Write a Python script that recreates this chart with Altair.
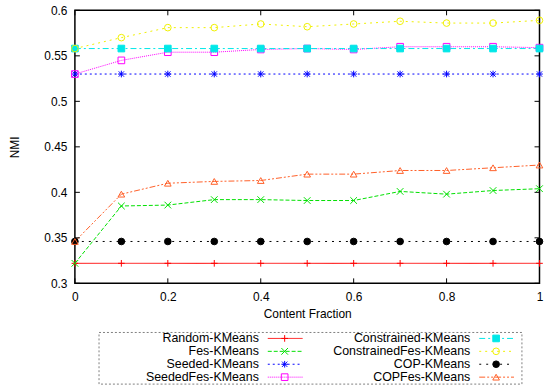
import altair as alt
import pandas as pd

# ---------------- data ----------------
content_fraction = [0.0, 0.1, 0.2, 0.3, 0.4, 0.5, 0.6, 0.7, 0.8, 0.9, 1.0]

series_names = [
    "Random-KMeans", "Fes-KMeans", "Seeded-KMeans", "SeededFes-KMeans",
    "Constrained-KMeans", "ConstrainedFes-KMeans", "COP-KMeans", "COPFes-KMeans",
]

random_kmeans = [0.322, 0.322, 0.322, 0.322, 0.322, 0.322, 0.322, 0.322, 0.322, 0.322, 0.322]
fes_kmeans = [0.322, 0.385, 0.386, 0.392, 0.392, 0.391, 0.391, 0.401, 0.398, 0.402, 0.404]
seeded_kmeans = [0.530, 0.530, 0.530, 0.530, 0.530, 0.530, 0.530, 0.530, 0.530, 0.530, 0.530]
seededfes_kmeans = [0.530, 0.545, 0.554, 0.554, 0.557, 0.558, 0.557, 0.560, 0.560, 0.560, 0.559]
constrained_kmeans = [0.558, 0.558, 0.558, 0.558, 0.558, 0.558, 0.558, 0.558, 0.558, 0.558, 0.558]
constrainedfes_kmeans = [0.558, 0.570, 0.581, 0.581, 0.585, 0.582, 0.585, 0.588, 0.586, 0.586, 0.589]
cop_kmeans = [0.346, 0.346, 0.346, 0.346, 0.346, 0.346, 0.346, 0.346, 0.346, 0.346, 0.346]
copfes_kmeans = [0.346, 0.398, 0.410, 0.412, 0.413, 0.420, 0.420, 0.424, 0.424, 0.427, 0.430]

series_values = [
    random_kmeans, fes_kmeans, seeded_kmeans, seededfes_kmeans,
    constrained_kmeans, constrainedfes_kmeans, cop_kmeans, copfes_kmeans,
]

x_ticks = [0, 0.2, 0.4, 0.6, 0.8, 1]
y_ticks = [0.3, 0.35, 0.4, 0.45, 0.5, 0.55, 0.6]

legend_col = [0, 0, 0, 0, 1, 1, 1, 1]
legend_row = [0, 1, 2, 3, 0, 1, 2, 3]

# ---------------- styles ----------------
colors = ["#ff0000", "#00e000", "#0000ff", "#ff00ff", "#00e8e8", "#f0f000", "#000000", "#ff6028"]
dashes = [[1, 0], [4, 2], [2, 3], [1, 1], [6, 3, 2, 3], [2, 4], [2, 5], [6, 2, 2, 2, 2, 2]]
plus = "M-1,0H1M0,-1V1"
cross = "M-1,-1L1,1M-1,1L1,-1"
star = "M-1,0H1M0,-1V1M-0.8,-0.8L0.8,0.8M-0.8,0.8L0.8,-0.8"
shapes = [plus, cross, star, "square", "square", "circle", "circle", "triangle-up"]
fills = ["transparent", "transparent", "transparent", "transparent",
         colors[4], "transparent", "#000000", "transparent"]

FONT = "Liberation Sans"
W, H = 468, 275

rows = []
for i, (name, vals) in enumerate(zip(series_names, series_values)):
    for xv, yv in zip(content_fraction, vals):
        rows.append({"x": xv, "value": yv, "series": name, "sidx": i})
df = pd.DataFrame(rows)

color_scale = alt.Scale(domain=series_names, range=colors)
dash_scale = alt.Scale(domain=series_names, range=dashes)
shape_scale = alt.Scale(domain=series_names, range=shapes)
fill_scale = alt.Scale(domain=series_names, range=fills)

x_enc = alt.X(
    "x:Q",
    scale=alt.Scale(domain=[0, 1], nice=False),
    axis=alt.Axis(values=x_ticks, title="Content Fraction", format="~g",
                  labelFlush=False, labelPadding=8, titlePadding=6),
)
y_enc = alt.Y(
    "value:Q",
    scale=alt.Scale(domain=[0.3, 0.6], nice=False, zero=False),
    axis=alt.Axis(values=y_ticks, title="NMI", format="~g", labelPadding=8, titlePadding=22),
)

base = alt.Chart(df)
lines = base.mark_line(strokeWidth=1).encode(
    x=x_enc, y=y_enc,
    color=alt.Color("series:N", scale=color_scale, legend=None),
    strokeDash=alt.StrokeDash("series:N", scale=dash_scale, legend=None),
    order=alt.Order("x:Q"),
)
points = base.mark_point(filled=True, size=45, strokeWidth=1, opacity=1).encode(
    x="x:Q", y="value:Q",
    stroke=alt.Stroke("series:N", scale=color_scale, legend=None),
    fill=alt.Fill("series:N", scale=fill_scale, legend=None),
    shape=alt.Shape("series:N", scale=shape_scale, legend=None),
    order=alt.Order("sidx:Q"),
)

ytick_df = pd.DataFrame({"v": y_ticks})
xtick_df = pd.DataFrame({"v": x_ticks})
tick_left = alt.Chart(ytick_df).mark_rule(color="black", strokeWidth=1).encode(
    y="v:Q", x=alt.value(0), x2=alt.value(5))
tick_right = alt.Chart(ytick_df).mark_rule(color="black", strokeWidth=1).encode(
    y="v:Q", x=alt.value(W - 5), x2=alt.value(W))
tick_bottom = alt.Chart(xtick_df).mark_rule(color="black", strokeWidth=1).encode(
    x="v:Q", y=alt.value(H - 5), y2=alt.value(H))
tick_top = alt.Chart(xtick_df).mark_rule(color="black", strokeWidth=1).encode(
    x="v:Q", y=alt.value(0), y2=alt.value(5))

main = alt.layer(lines, points, tick_left, tick_right, tick_bottom, tick_top).properties(
    width=W, height=H,
    view=alt.ViewBackground(stroke="black", strokeWidth=1.5),
)

# ---------------- legend ----------------
leg_df = pd.DataFrame({"series": series_names, "col": legend_col, "row": legend_row})
leg_x = alt.X("col:O", axis=None, scale=alt.Scale(type="point", padding=0.5))
leg_y = alt.Y("row:O", axis=None, scale=alt.Scale(type="point", padding=0.5))
leg_base = alt.Chart(leg_df)
leg_text = leg_base.mark_text(align="right", baseline="middle", dx=55, fontSize=12.5,
                              font=FONT, color="black").encode(
    x=leg_x, y=leg_y, text="series:N")
leg_line = leg_base.mark_rule(strokeWidth=1, xOffset=64, x2Offset=99).encode(
    x=leg_x, x2="col:O", y=leg_y,
    color=alt.Color("series:N", scale=color_scale, legend=None),
    strokeDash=alt.StrokeDash("series:N", scale=dash_scale, legend=None),
)
leg_pts = leg_base.mark_point(filled=True, size=45, strokeWidth=1, xOffset=81, opacity=1).encode(
    x=leg_x, y=leg_y,
    stroke=alt.Stroke("series:N", scale=color_scale, legend=None),
    fill=alt.Fill("series:N", scale=fill_scale, legend=None),
    shape=alt.Shape("series:N", scale=shape_scale, legend=None),
)
legend = alt.layer(leg_text, leg_line, leg_pts).properties(
    width=426, height=52,
    view=alt.ViewBackground(stroke="#808080", strokeWidth=1, strokeDash=[2, 2]),
)

chart = alt.vconcat(main, legend, spacing=11, center=True).properties(
    padding={"left": 8, "top": 2, "right": 0, "bottom": 0},
).configure_axis(
    grid=False, ticks=False, domain=False,
    labelFont=FONT, labelFontSize=12, labelColor="black",
    titleFont=FONT, titleFontSize=12, titleFontWeight="normal", titleColor="black",
).configure_view(stroke="black")

chart.save("out.html", embed_options={"renderer": "svg", "actions": False})
